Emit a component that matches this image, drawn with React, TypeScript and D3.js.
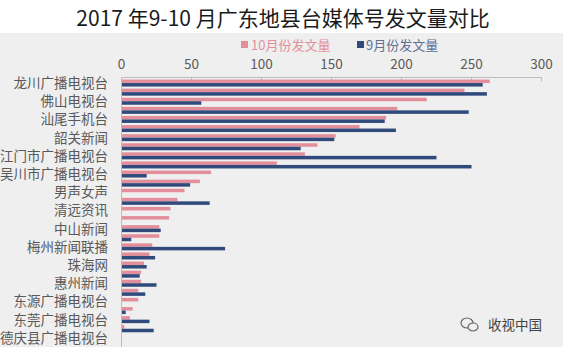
import React from "react";
import * as d3 from "d3";

// Station names; only every other category carries a visible label
const labels = [
  "龙川广播电视台",
  "佛山电视台",
  "汕尾手机台",
  "韶关新闻",
  "江门市广播电视台",
  "吴川市广播电视台",
  "男声女声",
  "清远资讯",
  "中山新闻",
  "梅州新闻联播",
  "珠海网",
  "惠州新闻",
  "东源广播电视台",
  "东莞广播电视台",
  "德庆县广播电视台",
];

// October (10月) post counts, sorted descending
const octValues = [
  263, 245, 218, 197, 189, 170, 153, 140, 131, 111, 64, 56, 45, 40, 35, 34, 27,
  27, 22, 20, 16, 14, 14, 12, 12, 8, 6, 2, 0,
];

// September (9月) post counts, same category order
const sepValues = [
  258, 261, 57, 248, 188, 196, 152, 128, 225, 250, 18, 49, 0, 63, 0, 0, 28, 7,
  74, 24, 18, 13, 25, 17, 0, 3, 20, 23, 0,
];

const seriesNames = ["10月份发文量", "9月份发文量"];
const xTicks = [0, 50, 100, 150, 200, 250, 300];

const W = 563;
const H = 347;
const PINK = "#e38f9b";
const NAVY = "#2f4a7b";
const FONT = "'Noto Sans CJK SC', 'Noto Sans', sans-serif";

export default function App() {
  const n = octValues.length;
  const idx = d3.range(n);
  const top = 78.5;
  const step = 9.1;

  const x = d3.scaleLinear().domain([0, 300]).range([121.5, 541.5]);
  const y = d3
    .scaleBand<number>()
    .domain(idx)
    .range([top, top + n * step])
    .paddingInner(0.23)
    .paddingOuter(0.115);
  const sub = d3
    .scaleBand<string>()
    .domain(["oct", "sep"])
    .range([0, y.bandwidth()]);

  const series = [
    { key: "oct", values: octValues, color: PINK },
    { key: "sep", values: sepValues, color: NAVY },
  ];

  return (
    <svg
      width={W}
      height={H}
      style={{ position: "absolute", left: 0, top: 0, display: "block" }}
      fontFamily={FONT}
    >
      <rect x={0} y={0} width={W} height={H} fill="#ffffff" />
      <rect x={0} y={33} width={W} height={H - 33} fill="#efefef" />

      <text
        x={283}
        y={26}
        textAnchor="middle"
        fontSize={21}
        fill="#1a1a1a"
      >
        2017 年9-10 月广东地县台媒体号发文量对比
      </text>

      {/* legend */}
      <g fontSize={13}>
        <rect x={241} y={41} width={7} height={7} fill={PINK} />
        <text x={251} y={49.5} fill={PINK}>
          {seriesNames[0]}
        </text>
        <rect x={357} y={41} width={7} height={7} fill={NAVY} />
        <text x={366} y={49.5} fill="#5d6f92">
          {seriesNames[1]}
        </text>
      </g>

      {/* top value axis */}
      <line
        x1={x(0)}
        x2={x(300)}
        y1={top - 1}
        y2={top - 1}
        stroke="#bdbdbd"
      />
      {xTicks.map((t) => (
        <g key={t}>
          <line
            x1={x(t)}
            x2={x(t)}
            y1={top - 1}
            y2={top + 3}
            stroke="#bdbdbd"
          />
          <text
            x={x(t)}
            y={69}
            textAnchor="middle"
            fontSize={13.5}
            fill="#595959"
          >
            {t}
          </text>
        </g>
      ))}

      {/* bars */}
      {series.map((s) =>
        idx.map((i) => (
          <rect
            key={s.key + i}
            x={x(0)}
            y={(y(i) as number) + (sub(s.key) as number)}
            width={x(s.values[i]) - x(0)}
            height={sub.bandwidth()}
            fill={s.color}
          />
        ))
      )}

      {/* category axis */}
      <line x1={x(0)} x2={x(0)} y1={top - 1} y2={H} stroke="#bdbdbd" />
      {labels.map((name, k) => {
        const i = k * 2;
        return (
          <text
            key={name}
            x={108}
            y={(y(i) as number) + y.bandwidth() / 2}
            dy="0.36em"
            textAnchor="end"
            fontSize={13.5}
            fill="#595959"
          >
            {name}
          </text>
        );
      })}

      {/* account mark */}
      <g transform="translate(470,325)" fill="none" stroke="#666" strokeWidth={1.2}>
        <ellipse cx={-3} cy={-2} rx={6} ry={5} />
        <ellipse cx={3} cy={2} rx={5} ry={4} fill="#efefef" />
      </g>
      <text x={488} y={330} fontSize={13.5} fill="#444">
        收视中国
      </text>
    </svg>
  );
}
